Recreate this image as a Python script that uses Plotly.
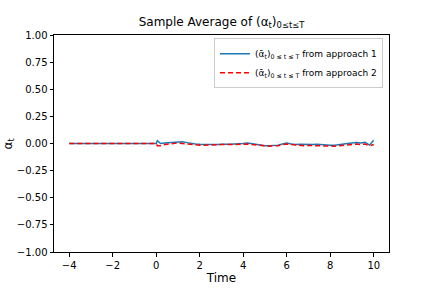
import plotly.graph_objects as go

time_pre = [-4.0, -3.0, -2.0, -1.0, 0.0]
vals_pre = [0.0, 0.0, 0.0, 0.0, 0.0]

time_post = [0.05, 0.2, 0.4, 0.6, 0.8, 1.0, 1.2, 1.4, 1.6, 1.8, 2.0, 2.2, 2.4, 2.6, 2.8,
             3.0, 3.2, 3.4, 3.6, 3.8, 4.0, 4.2, 4.4, 4.6, 4.8, 5.0, 5.2, 5.4, 5.6, 5.8,
             6.0, 6.2, 6.4, 6.6, 6.8, 7.0, 7.2, 7.4, 7.6, 7.8, 8.0, 8.2, 8.4, 8.6, 8.8,
             9.0, 9.2, 9.4, 9.6, 9.8, 10.0]

approach1 = [0.025, 0.0, 0.005, 0.008, 0.012, 0.015, 0.015, 0.008, 0.0, -0.005, -0.008,
             -0.010, -0.008, -0.012, -0.010, -0.008, -0.010, -0.008, -0.005, -0.005, 0.0,
             0.005, -0.002, -0.008, -0.015, -0.02, -0.02, -0.018, -0.015, -0.005, 0.005,
             -0.005, -0.01, -0.008, -0.010, -0.012, -0.010, -0.008, -0.012, -0.012, -0.015,
             -0.015, -0.012, -0.005, 0.0, 0.005, 0.01, 0.005, 0.012, -0.015, 0.03]

approach2 = [-0.02, -0.02, -0.01, -0.005, 0.0, 0.005, 0.0, -0.005, -0.01, -0.012, -0.015,
             -0.015, -0.012, -0.015, -0.012, -0.01, -0.012, -0.012, -0.01, -0.008, -0.005,
             -0.005, -0.01, -0.015, -0.02, -0.025, -0.025, -0.02, -0.02, -0.01, -0.005,
             -0.01, -0.015, -0.02, -0.02, -0.018, -0.02, -0.02, -0.022, -0.02, -0.022,
             -0.025, -0.02, -0.015, -0.015, -0.01, -0.005, -0.01, -0.005, -0.022, -0.01]

y_ticks = [-1.0, -0.75, -0.5, -0.25, 0.0, 0.25, 0.5, 0.75, 1.0]
x_ticks = [-4, -2, 0, 2, 4, 6, 8, 10]

font = "DejaVu Sans"
leg1 = "(ᾱ<sub>t</sub>)<sub>0 ≤ t ≤ T</sub> from approach 1"
leg2 = "(ᾱ<sub>t</sub>)<sub>0 ≤ t ≤ T</sub> from approach 2"

fig = go.Figure()
fig.add_trace(go.Scatter(x=time_pre + time_post, y=vals_pre + approach1, mode="lines",
                         line=dict(color="#1f77b4", width=1.5), name=leg1))
fig.add_trace(go.Scatter(x=time_pre + time_post, y=vals_pre + approach2, mode="lines",
                         line=dict(color="#ff0000", width=1.5, dash="5px,3px"), name=leg2))

axis_common = dict(showgrid=False, zeroline=False, showline=True, linecolor="black",
                   linewidth=1, mirror=True, ticks="outside", ticklen=3.5, tickwidth=1,
                   tickcolor="black", automargin=False,
                   tickfont=dict(family=font, size=10, color="black"))

fig.update_layout(
    width=432, height=288,
    margin=dict(l=54, r=43, t=35, b=36, autoexpand=False),
    paper_bgcolor="white", plot_bgcolor="white",
    font=dict(family=font, color="black"),
    title=dict(text="Sample Average of (α<sub>t</sub>)<sub>0≤t≤T</sub>",
               x=0.5, xref="paper", xanchor="center", y=0.925, yref="container",
               yanchor="middle", automargin=False,
               font=dict(family=font, size=12)),
    xaxis=dict(range=[-4.7, 10.7], tickvals=x_ticks,
               ticktext=[str(v).replace("-", "−") for v in x_ticks],
               title=dict(text="Time", font=dict(family=font, size=12), standoff=4),
               **axis_common),
    yaxis=dict(range=[-1.0, 1.0], tickvals=y_ticks, tickformat=".2f",
               **axis_common),
    legend=dict(x=0.982, y=0.985, xanchor="right", yanchor="top",
                bgcolor="rgba(255,255,255,0.8)", bordercolor="#cccccc", borderwidth=1,
                font=dict(family=font, size=9), tracegroupgap=0, itemwidth=30),
    showlegend=True,
    annotations=[dict(text="α<sub>t</sub>", xref="paper", yref="paper", x=0, y=0.5,
                      xanchor="center", yanchor="middle", xshift=-46, textangle=-90,
                      showarrow=False, font=dict(family=font, size=12))],
)

fig.write_html("out.html", config={"displayModeBar": False},
               post_script="document.body.style.margin='0';")
